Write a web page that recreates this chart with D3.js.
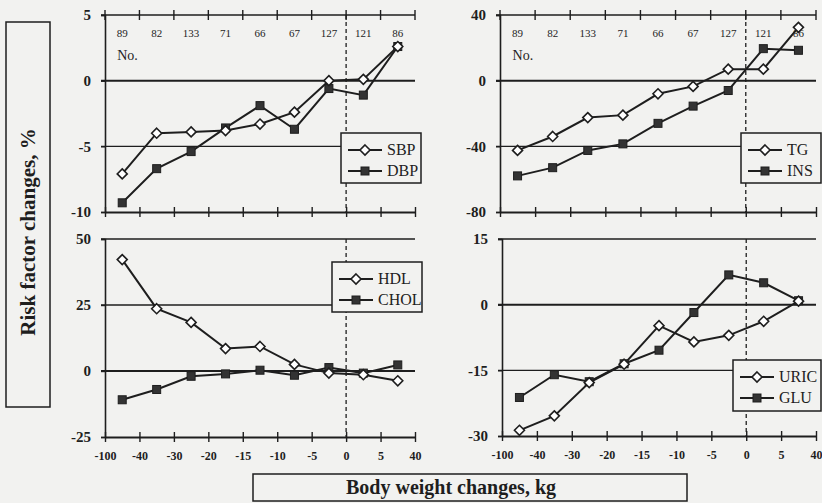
<!DOCTYPE html>
<html>
<head>
<meta charset="utf-8">
<script src="https://cdn.jsdelivr.net/npm/d3@7"></script>
<style>
  body { margin: 0; background: #f2f2f0; }
  svg { display: block; font-family: "Liberation Serif", "Times New Roman", serif; }
  svg text { font-family: "Liberation Serif", "Times New Roman", serif; }
</style>
</head>
<body>
<div id="chart"></div>
<script>
// weight-change class boundaries (tick labels) and group sizes
var weightLabels = ["-100", "-40", "-30", "-20", "-15", "-10", "-5", "0", "5", "40"];
var groupN = ["89", "82", "133", "71", "66", "67", "127", "121", "86"];

// risk factor changes, % (one value per weight class)
var sbp  = [-7.1, -4.0, -3.9, -3.8, -3.3, -2.4, 0.0, 0.1, 2.6];
var dbp  = [-9.3, -6.7, -5.4, -3.6, -1.9, -3.7, -0.6, -1.1, 2.6];
var tg   = [-42.5, -34, -22.5, -21, -8, -3.5, 7, 7, 32.5];
var ins  = [-58, -53, -42.5, -38.5, -26, -15.5, -6, 19.5, 18.5];
var hdl  = [42.2, 23.6, 18.4, 8.5, 9.3, 2.5, -0.8, -1.4, -3.7];
var chol = [-10.9, -7.0, -2.0, -1.1, 0.3, -1.6, 1.3, -0.8, 2.3];
var uric = [-28.7, -25.4, -17.8, -13.6, -4.8, -8.5, -7.0, -3.8, 0.8];
var glu  = [-21.2, -16.0, -17.6, -13.5, -10.4, -1.8, 6.8, 5.0, 0.9];

var yTicksBP = [-10, -5, 0, 5];
var yTicksTG = [-80, -40, 0, 40];
var yTicksHDL = [-25, 0, 25, 50];
var yTicksUric = [-30, -15, 0, 15];

var svgWidth = 822;
var svgHeight = 503;
var ink = "#1e1e1e";
var serif = "Liberation Serif, Times New Roman, serif";

var svg = d3.select("#chart")
    .append("svg")
    .attr("width", svgWidth)
    .attr("height", svgHeight);

// panel layout
var panels = [
    {left: 105, right: 415, top: 15, bottom: 212, ticks: yTicksBP, a: sbp, b: dbp, names: ["SBP", "DBP"], upper: true,
     legend: {x: 341, y: 133, w: 80, h: 50}},
    {left: 500, right: 816, top: 15, bottom: 212, ticks: yTicksTG, a: tg, b: ins, names: ["TG", "INS"], upper: true,
     legend: {x: 741, y: 133, w: 80, h: 50}},
    {left: 105, right: 415, top: 239, bottom: 437, ticks: yTicksHDL, a: hdl, b: chol, names: ["HDL", "CHOL"], upper: false,
     legend: {x: 332, y: 262, w: 90, h: 50}},
    {left: 502, right: 816, top: 239, bottom: 436, ticks: yTicksUric, a: uric, b: glu, names: ["URIC", "GLU"], upper: false,
     legend: {x: 733, y: 360, w: 88, h: 51}}
];

function diamond(g, x, y) {
    g.append("path")
        .attr("d", `M${x},${y - 5}L${x + 5},${y}L${x},${y + 5}L${x - 5},${y}Z`)
        .attr("fill", "#fff")
        .attr("stroke", ink)
        .attr("stroke-width", 1.6);
}

function square(g, x, y) {
    g.append("rect")
        .attr("x", x - 4).attr("y", y - 4)
        .attr("width", 8).attr("height", 8)
        .attr("fill", "#333")
        .attr("stroke", ink)
        .attr("stroke-width", 1);
}

panels.forEach(function(p) {
    var g = svg.append("g");
    var x = d3.scaleLinear().domain([0, 9]).range([p.left, p.right]);
    var y = d3.scaleLinear().domain([p.ticks[0], p.ticks[3]]).range([p.bottom, p.top]);

    // horizontal grid lines
    g.selectAll(".grid")
        .data(p.ticks.slice(1))
        .enter()
        .append("line")
        .attr("x1", p.left - 4).attr("x2", p.right)
        .attr("y1", d => y(d)).attr("y2", d => y(d))
        .attr("stroke", ink)
        .attr("stroke-width", d => d === 0 ? 2 : 1.4);

    // left axis
    var leftAxis = d3.axisLeft(y).tickValues(p.ticks).tickSize(4).tickPadding(10)
        .tickFormat(d => String(d));
    var ly = g.append("g").attr("transform", `translate(${p.left},0)`).call(leftAxis)
        .attr("font-family", serif);
    ly.select(".domain").attr("stroke", ink).attr("stroke-width", 1.6);
    ly.selectAll(".tick line").attr("stroke", ink).attr("stroke-width", 1.4);
    ly.selectAll("text")
        .attr("fill", ink)
        .attr("font-weight", "bold")
        .attr("font-size", 15);

    // bottom axis, ticks crossing the line
    var bottomAxis = d3.axisBottom(x)
        .tickValues(d3.range(10))
        .tickSize(0)
        .tickFormat((d, i) => weightLabels[i]);
    var bx = g.append("g").attr("transform", `translate(0,${p.bottom})`).call(bottomAxis)
        .attr("font-family", serif);
    bx.select(".domain").attr("stroke", ink).attr("stroke-width", 1.8);
    bx.selectAll(".tick").append("line")
        .attr("y1", -5).attr("y2", 5)
        .attr("stroke", ink).attr("stroke-width", 1.4);
    if (p.upper) {
        bx.selectAll("text").remove();
    } else {
        bx.selectAll("text")
            .attr("y", 14)
            .attr("fill", ink)
            .attr("font-weight", "bold")
            .attr("font-size", 12);
    }

    // top ticks on the upper panels
    if (p.upper) {
        g.selectAll(".toptick")
            .data(d3.range(10))
            .enter()
            .append("line")
            .attr("x1", d => x(d)).attr("x2", d => x(d))
            .attr("y1", p.top - 5).attr("y2", p.top + 5)
            .attr("stroke", ink).attr("stroke-width", 1.4);

        g.selectAll(".ncount")
            .data(groupN)
            .enter()
            .append("text")
            .attr("x", (d, i) => x(i + 0.5))
            .attr("y", p.top + 22)
            .attr("text-anchor", "middle")
            .attr("font-size", 11)
            .attr("fill", ink)
            .text(d => d);

        g.append("text")
            .attr("x", x(0.5) - 5)
            .attr("y", p.top + 45)
            .attr("font-size", 14)
            .attr("fill", ink)
            .text("No.");
    }

    // dashed line at zero weight change
    g.append("line")
        .attr("x1", x(7)).attr("x2", x(7))
        .attr("y1", p.top).attr("y2", p.bottom)
        .attr("stroke", ink)
        .attr("stroke-width", 1.3)
        .attr("stroke-dasharray", "4,3");

    var line = d3.line()
        .x((d, i) => x(i + 0.5))
        .y(d => y(d));

    // filled-square series first, open diamonds drawn on top
    g.append("path")
        .datum(p.b)
        .attr("d", line)
        .attr("fill", "none")
        .attr("stroke", ink)
        .attr("stroke-width", 2);
    g.append("path")
        .datum(p.a)
        .attr("d", line)
        .attr("fill", "none")
        .attr("stroke", ink)
        .attr("stroke-width", 2);
    p.b.forEach(function(v, i) { square(g, x(i + 0.5), y(v)); });
    p.a.forEach(function(v, i) { diamond(g, x(i + 0.5), y(v)); });

    // legend
    var L = p.legend;
    var lg = g.append("g").attr("transform", `translate(${L.x},${L.y})`);
    lg.append("rect")
        .attr("width", L.w).attr("height", L.h)
        .attr("fill", "#f2f2f0")
        .attr("stroke", ink)
        .attr("stroke-width", 1.5);
    [0, 1].forEach(function(k) {
        var ry = k === 0 ? 17 : 38;
        lg.append("line")
            .attr("x1", 7).attr("x2", 41)
            .attr("y1", ry).attr("y2", ry)
            .attr("stroke", ink).attr("stroke-width", 2);
        if (k === 0) diamond(lg, 24, ry); else square(lg, 24, ry);
        lg.append("text")
            .attr("x", 46)
            .attr("y", ry + 5)
            .attr("font-size", 16)
            .attr("fill", ink)
            .text(p.names[k]);
    });
});

// axis titles in boxes
svg.append("rect")
    .attr("x", 6).attr("y", 22)
    .attr("width", 44).attr("height", 385)
    .attr("fill", "none")
    .attr("stroke", ink)
    .attr("stroke-width", 1.5);
svg.append("text")
    .attr("transform", "translate(35,232) rotate(-90)")
    .attr("text-anchor", "middle")
    .attr("font-size", 21)
    .attr("font-weight", "bold")
    .attr("fill", ink)
    .text("Risk factor changes, %");

svg.append("rect")
    .attr("x", 253).attr("y", 474)
    .attr("width", 434).attr("height", 27)
    .attr("fill", "none")
    .attr("stroke", ink)
    .attr("stroke-width", 1.5);
svg.append("text")
    .attr("x", 451).attr("y", 494)
    .attr("text-anchor", "middle")
    .attr("font-size", 20)
    .attr("font-weight", "bold")
    .attr("fill", ink)
    .text("Body weight changes, kg");
</script>
</body>
</html>
